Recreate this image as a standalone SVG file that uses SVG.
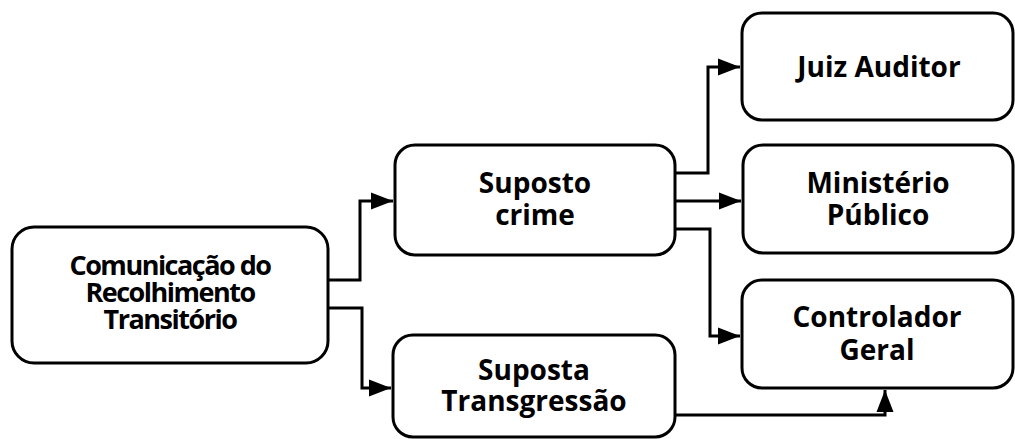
<svg xmlns="http://www.w3.org/2000/svg" width="1015" height="439" viewBox="0 0 1015 439">
  <style>
    .box { fill: #ffffff; stroke: #000000; stroke-width: 3; }
    .lbl { font-family: "Open Sans", "Liberation Sans", sans-serif; font-weight: bold; font-size: 28px; fill: #000000; text-anchor: middle; }
    .tight { letter-spacing: -1.5px; font-size: 27px; }
    .wire { fill: none; stroke: #000000; stroke-width: 3; }
  </style>
  <defs>
    <marker id="arrow" markerUnits="userSpaceOnUse" markerWidth="24" markerHeight="18" refX="22" refY="9" orient="auto">
      <path d="M0,0.5 L22,9 L0,17.5 Z" fill="#000000"/>
    </marker>
  </defs>
  <rect width="1015" height="439" fill="#ffffff"/>

  <g id="connectors">
    <path class="wire" d="M328,280 H360 V201 H393" marker-end="url(#arrow)"/>
    <path class="wire" d="M328,308 H362 V388 H391" marker-end="url(#arrow)"/>
    <path class="wire" d="M675,173 H708 V67 H740" marker-end="url(#arrow)"/>
    <path class="wire" d="M675,201 H741" marker-end="url(#arrow)"/>
    <path class="wire" d="M675,229 H710 V336 H740" marker-end="url(#arrow)"/>
    <path class="wire" d="M675,415 H885 V390" marker-end="url(#arrow)"/>
  </g>

  <g id="comunicacao">
    <rect class="box" x="12" y="227" width="316" height="136" rx="22"/>
    <text class="lbl tight" x="170" y="275"><tspan x="170">Comunicação do</tspan><tspan x="170" dy="27">Recolhimento</tspan><tspan x="170" dy="27">Transitório</tspan></text>
  </g>

  <g id="suposto-crime">
    <rect class="box" x="395" y="145" width="280" height="110" rx="20"/>
    <text class="lbl" x="535" y="193"><tspan x="535">Suposto</tspan><tspan x="535" dy="32">crime</tspan></text>
  </g>

  <g id="suposta-transgressao">
    <rect class="box" x="393" y="335" width="282" height="102" rx="20"/>
    <text class="lbl" x="534" y="380"><tspan x="534">Suposta</tspan><tspan x="534" dy="31">Transgressão</tspan></text>
  </g>

  <g id="juiz-auditor">
    <rect class="box" x="742" y="13" width="271" height="107" rx="20"/>
    <text class="lbl" x="879" y="77">Juiz Auditor</text>
  </g>

  <g id="ministerio-publico">
    <rect class="box" x="743" y="145" width="270" height="108" rx="20"/>
    <text class="lbl" x="878" y="193"><tspan x="878">Ministério</tspan><tspan x="878" dy="32">Público</tspan></text>
  </g>

  <g id="controlador-geral">
    <rect class="box" x="742" y="280" width="271" height="108" rx="20"/>
    <text class="lbl" x="877" y="327"><tspan x="877">Controlador</tspan><tspan x="877" dy="33">Geral</tspan></text>
  </g>
</svg>
